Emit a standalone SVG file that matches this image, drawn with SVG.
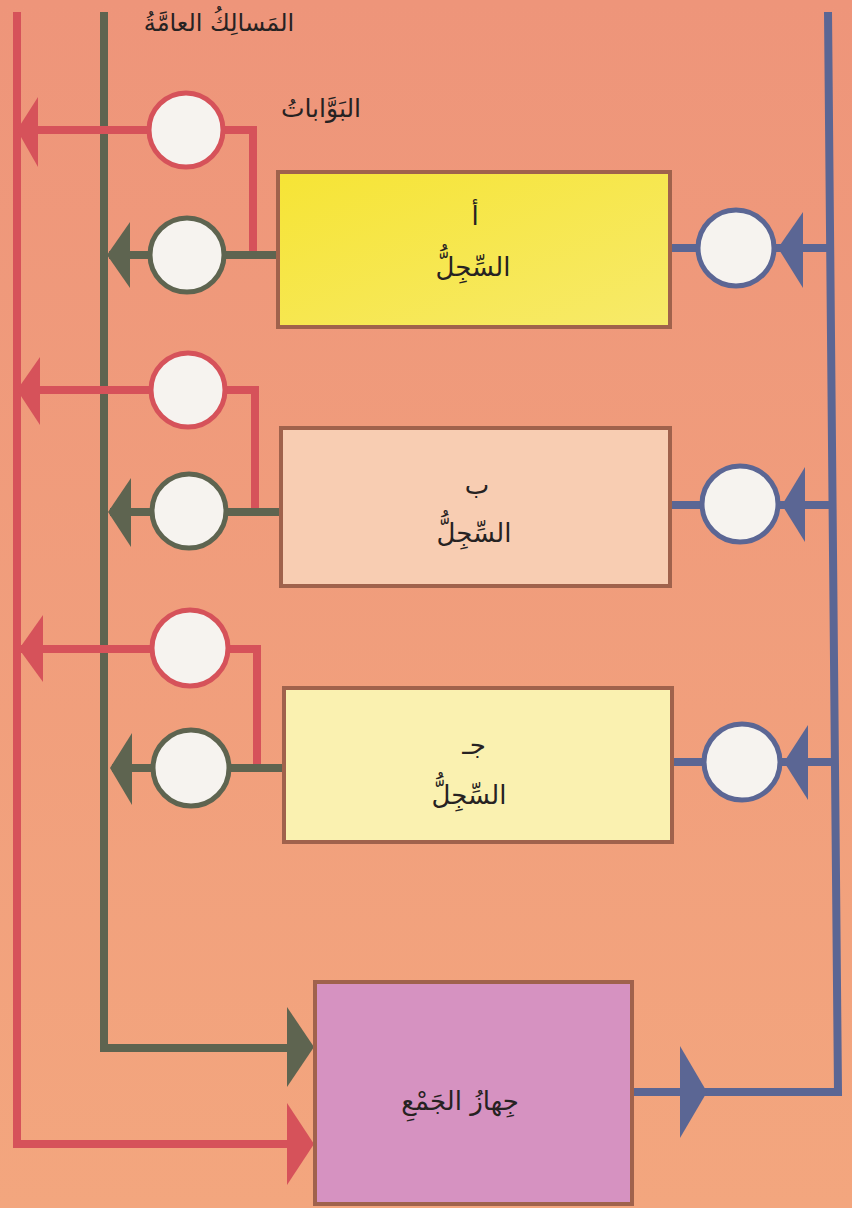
<svg xmlns="http://www.w3.org/2000/svg" width="852" height="1208" viewBox="0 0 852 1208">
<defs>
<linearGradient id="bg" x1="0" y1="0" x2="0" y2="1">
<stop offset="0" stop-color="#ee957a"/>
<stop offset="1" stop-color="#f3a67e"/>
</linearGradient>
<linearGradient id="yel" x1="0" y1="0" x2="1" y2="1">
<stop offset="0" stop-color="#f6e435"/>
<stop offset="1" stop-color="#f7ea6a"/>
</linearGradient>
<style>
.red{stroke:#d6525a;fill:none;stroke-width:8;stroke-linejoin:miter}
.grn{stroke:#5e6450;fill:none;stroke-width:8;stroke-linejoin:miter}
.blu{stroke:#5b6694;fill:none;stroke-width:8;stroke-linejoin:miter}
.ahr{fill:#d6525a}
.ahg{fill:#5e6450}
.ahb{fill:#5b6694}
.gate{fill:#f6f3ef;stroke-width:5}
.gr{stroke:#d6525a}
.gg{stroke:#5e6450}
.gb{stroke:#5b6694}
.box{stroke:#a0624c;stroke-width:4}
.t{font-family:"DejaVu Sans",sans-serif;fill:#262222;text-anchor:middle}
</style>
</defs>
<rect width="852" height="1208" fill="url(#bg)"/>
<g id="connectors">
<path class="grn" d="M104,12 V1048 H292"/>
<path class="red" d="M17,12 V1144 H292"/>
<path class="blu" d="M828,12 L838,1092 H632"/>
<polygon class="ahg" points="314,1047 287,1007 287,1087"/>
<polygon class="ahr" points="314,1144 287,1103 287,1185"/>
<polygon class="ahb" points="707,1092 680,1046 680,1138"/>
<path class="red" d="M186,130 H19"/>
<polygon class="ahr" points="17,130 38,97 38,167"/>
<path class="red" d="M186,130 H253 V255"/>
<path class="grn" d="M278,255 H109"/>
<polygon class="ahg" points="107,255 130,222 130,288"/>
<path class="blu" d="M670,248 H830"/>
<polygon class="ahb" points="778,248 803,212 803,288"/>
<path class="red" d="M188,390 H19"/>
<polygon class="ahr" points="17,390 40,357 40,425"/>
<path class="red" d="M188,390 H255 V512"/>
<path class="grn" d="M281,512 H110"/>
<polygon class="ahg" points="108,512 131,478 131,547"/>
<path class="blu" d="M670,505 H834"/>
<polygon class="ahb" points="782,505 805,467 805,542"/>
<path class="red" d="M190,649 H20"/>
<polygon class="ahr" points="19,649 43,615 43,682"/>
<path class="red" d="M190,649 H257 V768"/>
<path class="grn" d="M284,768 H112"/>
<polygon class="ahg" points="110,768 132,733 132,805"/>
<path class="blu" d="M672,762 H836"/>
<polygon class="ahb" points="784,762 808,725 808,800"/>
</g>
<g id="gate-red-a"><circle class="gate gr" cx="186" cy="130" r="37"/></g>
<g id="gate-green-a"><circle class="gate gg" cx="187" cy="255" r="37"/></g>
<g id="gate-blue-a"><circle class="gate gb" cx="736" cy="248" r="38"/></g>
<g id="gate-red-b"><circle class="gate gr" cx="188" cy="390" r="37"/></g>
<g id="gate-green-b"><circle class="gate gg" cx="189" cy="511" r="37"/></g>
<g id="gate-blue-b"><circle class="gate gb" cx="740" cy="504" r="38"/></g>
<g id="gate-red-c"><circle class="gate gr" cx="190" cy="648" r="38"/></g>
<g id="gate-green-c"><circle class="gate gg" cx="191" cy="768" r="38"/></g>
<g id="gate-blue-c"><circle class="gate gb" cx="742" cy="762" r="38"/></g>
<g id="register-a">
<rect class="box" x="278" y="172" width="392" height="155" fill="url(#yel)"/>
<text class="t" x="475" y="225" font-size="26">أ</text>
<text class="t" x="473" y="276" font-size="26">السِّجِلُّ</text>
</g>
<g id="register-b">
<rect class="box" x="281" y="428" width="389" height="158" fill="#f8cdb2"/>
<text class="t" x="477" y="494" font-size="26">ب</text>
<text class="t" x="474" y="542" font-size="26">السِّجِلُّ</text>
</g>
<g id="register-c">
<rect class="box" x="284" y="688" width="388" height="154" fill="#faf1b0"/>
<text class="t" x="474" y="754" font-size="26">جـ</text>
<text class="t" x="469" y="804" font-size="26">السِّجِلُّ</text>
</g>
<g id="adder">
<rect class="box" x="315" y="982" width="317" height="222" fill="#d692c1" stroke="#9a5e56"/>
<text class="t" x="460" y="1110" font-size="26">جِهازُ الجَمْعِ</text>
</g>
<g id="labels">
<text class="t" x="219" y="31" font-size="24">المَسالِكُ العامَّةُ</text>
<text class="t" x="321" y="117" font-size="25">البَوَّاباتُ</text>
</g>
</svg>
